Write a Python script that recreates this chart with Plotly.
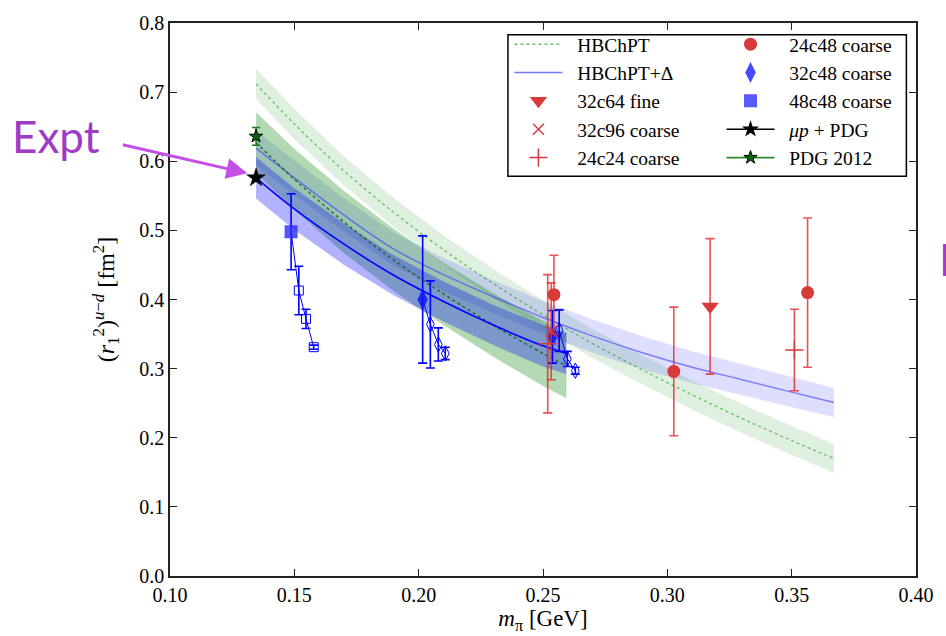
import plotly.graph_objects as go

# ---------------- data ----------------
# full-range fit curves (HBChPT and HBChPT+Delta)
x_full = [0.1346, 0.15, 0.17, 0.19, 0.21, 0.23, 0.25, 0.27, 0.29, 0.31, 0.33, 0.35, 0.367]
hb_center = [0.712, 0.654, 0.586, 0.526, 0.472, 0.423, 0.378, 0.336, 0.298, 0.262, 0.228, 0.196, 0.170]
hb_err = [0.022, 0.022, 0.021, 0.021, 0.021, 0.021, 0.021, 0.021, 0.021, 0.021, 0.021, 0.021, 0.021]
hbd_center = [0.619, 0.576, 0.522, 0.473, 0.436, 0.404, 0.374, 0.347, 0.323, 0.302, 0.284, 0.266, 0.251]
hbd_err = [0.025, 0.025, 0.024, 0.024, 0.024, 0.024, 0.024, 0.024, 0.024, 0.023, 0.023, 0.022, 0.021]

# short-range fit curves (fit to the coarse blue data)
x_short = [0.1346, 0.15, 0.17, 0.19, 0.21, 0.23, 0.25, 0.2594]
dg_center = [0.627, 0.574, 0.512, 0.457, 0.408, 0.363, 0.322, 0.304]
dg_err = [0.044, 0.044, 0.045, 0.045, 0.045, 0.046, 0.047, 0.047]
db_center = [0.576, 0.531, 0.480, 0.435, 0.397, 0.363, 0.333, 0.322]
db_err = [0.030, 0.030, 0.030, 0.029, 0.029, 0.029, 0.030, 0.030]

# blue lattice data
sq48_x = [0.1487]
sq48_y = [0.498]
sq48_err = [0.055]
sq48_ext_x = [0.1518, 0.1547, 0.1578]
sq48_ext_y = [0.413, 0.372, 0.331]
sq48_ext_err = [0.035, 0.014, 0.003]

di32_x = [0.2016, 0.2538]
di32_y = [0.400, 0.346]
di32_err = [0.092, 0.038]
di32_ext1_x = [0.2047, 0.2079, 0.2107]
di32_ext1_y = [0.364, 0.335, 0.322]
di32_ext1_err = [0.063, 0.024, 0.009]
di32_ext2_x = [0.2565, 0.2598, 0.2630]
di32_ext2_y = [0.355, 0.314, 0.297]
di32_ext2_err = [0.030, 0.011, 0.005]

# red lattice data
c24c48_x = [0.2544, 0.3026, 0.3564]
c24c48_y = [0.407, 0.296, 0.410]
c24c48_err = [0.057, 0.093, 0.108]
t32c64_x = [0.3172]
t32c64_y = [0.390]
t32c64_err = [0.098]
x32c96_x = [0.2533]
x32c96_y = [0.354]
x32c96_err = [0.070]
p24c24_x = [0.2519, 0.3511]
p24c24_y = [0.336, 0.327]
p24c24_err = [0.100, 0.059]

# experiment
pdg_x = [0.1346]
pdg_y = [0.636]
pdg_err = [0.013]
mup_x = [0.1346]
mup_y = [0.576]

x_ticks = [0.10, 0.15, 0.20, 0.25, 0.30, 0.35, 0.40]
y_ticks = [0.0, 0.1, 0.2, 0.3, 0.4, 0.5, 0.6, 0.7, 0.8]

# ---------------- styles ----------------
RED = "#d83a3a"
RED_ERR = "rgba(222,40,40,0.8)"
BLUE = "#0000ff"
SERIF = "Liberation Serif"
PAD = "\u00a0\u00a0"

fig = go.Figure()


def band(xs, center, err, fillcolor):
    up = [c + e for c, e in zip(center, err)]
    lo = [c - e for c, e in zip(center, err)]
    fig.add_trace(go.Scatter(x=list(xs) + list(xs)[::-1], y=up + lo[::-1],
                             fill="toself", fillcolor=fillcolor, line=dict(width=0),
                             mode="lines", hoverinfo="skip", showlegend=False))


band(x_full, hb_center, hb_err, "rgba(0,128,0,0.12)")
band(x_full, hbd_center, hbd_err, "rgba(0,0,255,0.13)")
band(x_short, dg_center, dg_err, "rgba(0,128,0,0.30)")
band(x_short, db_center, db_err, "rgba(0,0,255,0.30)")

fig.add_trace(go.Scatter(x=x_full, y=hb_center, mode="lines", showlegend=False,
                         line=dict(color="rgba(0,150,0,0.55)", width=1.3, dash="dot", shape="spline")))
fig.add_trace(go.Scatter(x=x_full, y=hbd_center, mode="lines", showlegend=False,
                         line=dict(color="rgba(60,60,255,0.6)", width=1.5, shape="spline")))
fig.add_trace(go.Scatter(x=x_short, y=dg_center, mode="lines", showlegend=False,
                         line=dict(color="rgba(0,110,0,0.85)", width=1.5, dash="dot", shape="spline")))
fig.add_trace(go.Scatter(x=x_short, y=db_center, mode="lines", showlegend=False,
                         line=dict(color=BLUE, width=1.6, shape="spline")))

# blue connecting lines
fig.add_trace(go.Scatter(x=sq48_x + sq48_ext_x, y=sq48_y + sq48_ext_y, mode="lines",
                         showlegend=False, line=dict(color=BLUE, width=1)))
fig.add_trace(go.Scatter(x=di32_x[:1] + di32_ext1_x, y=di32_y[:1] + di32_ext1_y, mode="lines",
                         showlegend=False, line=dict(color=BLUE, width=1)))
fig.add_trace(go.Scatter(x=di32_x[1:] + di32_ext2_x, y=di32_y[1:] + di32_ext2_y, mode="lines",
                         showlegend=False, line=dict(color=BLUE, width=1)))


def errb(arr, color, thick=1.6, w=4.5):
    return dict(type="data", array=arr, visible=True, color=color, thickness=thick, width=w)


# open (extrapolated) blue markers
fig.add_trace(go.Scatter(x=sq48_ext_x, y=sq48_ext_y, mode="markers", showlegend=False,
                         error_y=errb(sq48_ext_err, BLUE),
                         marker=dict(symbol="square-open", size=9, color=BLUE, line=dict(width=1))))
fig.add_trace(go.Scatter(x=di32_ext1_x + di32_ext2_x, y=di32_ext1_y + di32_ext2_y, mode="markers",
                         showlegend=False, error_y=errb(di32_ext1_err + di32_ext2_err, BLUE),
                         marker=dict(symbol="diamond-tall-open", size=11, color=BLUE, line=dict(width=1))))
# filled blue markers
fig.add_trace(go.Scatter(x=sq48_x, y=sq48_y, mode="markers", showlegend=False,
                         error_y=errb(sq48_err, BLUE),
                         marker=dict(symbol="square", size=13, color="rgba(40,40,255,0.8)")))
fig.add_trace(go.Scatter(x=di32_x, y=di32_y, mode="markers", showlegend=False,
                         error_y=errb(di32_err, BLUE),
                         marker=dict(symbol="diamond-tall", size=15, color="rgba(20,20,255,0.85)")))

# red markers
fig.add_trace(go.Scatter(x=p24c24_x, y=p24c24_y, mode="markers", showlegend=False,
                         error_y=errb(p24c24_err, RED_ERR),
                         marker=dict(symbol="cross-thin-open", size=13, color=RED, line=dict(width=1.5, color=RED))))
fig.add_trace(go.Scatter(x=x32c96_x, y=x32c96_y, mode="markers", showlegend=False,
                         error_y=errb(x32c96_err, RED_ERR),
                         marker=dict(symbol="x-thin-open", size=11, color=RED, line=dict(width=1.5, color=RED))))
fig.add_trace(go.Scatter(x=t32c64_x, y=t32c64_y, mode="markers", showlegend=False,
                         error_y=errb(t32c64_err, RED_ERR),
                         marker=dict(symbol="triangle-down", size=15, color=RED)))
fig.add_trace(go.Scatter(x=c24c48_x, y=c24c48_y, mode="markers", showlegend=False,
                         error_y=errb(c24c48_err, RED_ERR),
                         marker=dict(symbol="circle", size=13, color=RED)))

# experiment points
fig.add_trace(go.Scatter(x=pdg_x, y=pdg_y, mode="markers", showlegend=False,
                         error_y=errb(pdg_err, "#1a7a1a", 1.5, 4),
                         marker=dict(symbol="star", size=10, color="#0a6a0a", line=dict(width=1, color="black"))))
fig.add_trace(go.Scatter(x=mup_x, y=mup_y, mode="markers", showlegend=False,
                         marker=dict(symbol="star", size=14, color="black", line=dict(width=0.5, color="black"))))

# ---------------- legend entries: two columns = two legends inside one box ----------------
N = [None]
col1 = [
    dict(name="HBChPT", mode="lines", line=dict(color="rgba(0,150,0,0.6)", width=1.5, dash="dot")),
    dict(name="HBChPT+Δ", mode="lines", line=dict(color="rgba(60,60,255,0.7)", width=1.5)),
    dict(name="32c64 fine", mode="markers", marker=dict(symbol="triangle-down", size=15, color=RED)),
    dict(name="32c96 coarse", mode="markers", marker=dict(symbol="x-thin-open", size=11, color=RED, line=dict(width=1.5, color=RED))),
    dict(name="24c24 coarse", mode="markers", marker=dict(symbol="cross-thin-open", size=13, color=RED, line=dict(width=1.5, color=RED))),
]
col2 = [
    dict(name="24c48 coarse", mode="markers", marker=dict(symbol="circle", size=13, color=RED)),
    dict(name="32c48 coarse", mode="markers", marker=dict(symbol="diamond-tall", size=15, color="rgba(40,40,255,0.85)")),
    dict(name="48c48 coarse", mode="markers", marker=dict(symbol="square", size=13, color="rgba(60,60,255,0.85)")),
    dict(name="<i>μp</i> + PDG", mode="lines+markers", line=dict(color="black", width=1.5),
         marker=dict(symbol="star", size=13, color="black")),
    dict(name="PDG 2012", mode="lines+markers", line=dict(color="#2a8a2a", width=1.8),
         marker=dict(symbol="star", size=10, color="#0a6a0a", line=dict(width=1, color="black"))),
]
for i, d in enumerate(col1):
    d = dict(d, name=PAD + d["name"])
    fig.add_trace(go.Scatter(x=N, y=N, showlegend=True, legend="legend", legendrank=i + 1, **d))
for i, d in enumerate(col2):
    d = dict(d, name=PAD + d["name"])
    fig.add_trace(go.Scatter(x=N, y=N, showlegend=True, legend="legend2", legendrank=i + 1, **d))

# ---------------- layout ----------------
axis_common = dict(showgrid=False, zeroline=False, showline=True, linecolor="#222", linewidth=1.5,
                   mirror="ticks", ticks="inside", ticklen=7, tickwidth=1.2, tickcolor="#222",
                   tickfont=dict(family=SERIF, size=20, color="black"))

leg_common = dict(yanchor="top", xanchor="left", orientation="v", itemwidth=48,
                  bgcolor="rgba(255,255,255,0)", borderwidth=0, traceorder="normal",
                  font=dict(family=SERIF, size=19.5, color="black"))

fig.update_layout(
    width=946, height=636,
    margin=dict(l=170, r=23, t=17, b=53),
    paper_bgcolor="white", plot_bgcolor="white",
    xaxis=dict(range=[0.10, 0.40], tickvals=x_ticks, ticktext=[f"{v:.2f}" for v in x_ticks],
               title=dict(text="<i>m</i><sub>π</sub> [GeV]", font=dict(family=SERIF, size=23, color="black"),
                          standoff=2), **axis_common),
    yaxis=dict(range=[0.0, 0.8], tickvals=y_ticks, ticktext=[f"{v:.1f}" for v in y_ticks],
               title=dict(text="(<i>r</i><sub>1</sub><sup>2</sup>)<sup><i>u</i>−<i>d</i></sup> [fm<sup>2</sup>]",
                          font=dict(family=SERIF, size=24, color="black"), standoff=18), **axis_common),
    legend=dict(x=0.455, y=0.9964, **leg_common),
    legend2=dict(x=0.7393, y=0.9964, **leg_common),
    shapes=[dict(type="rect", xref="paper", yref="paper", x0=0.453, x1=0.9871, y0=0.7229, y1=0.9788,
                 line=dict(color="black", width=1.5), fillcolor="white", layer="above")],
    annotations=[
        dict(text="Expt", xref="paper", yref="paper", x=-0.214, y=0.795, xanchor="left", yanchor="middle",
             showarrow=False, font=dict(family="Lato", size=44, color="#9e3cc6")),
        dict(text="Lattice", xref="paper", yref="paper", x=1.0283, y=0.573, xanchor="left", yanchor="middle",
             showarrow=False, font=dict(family="Lato", size=44, color="#9e3cc6")),
        dict(text="", xref="x", yref="y", x=0.1311, y=0.5825, ax=-126, ay=-29, showarrow=True,
             arrowhead=2, arrowsize=1.4, arrowwidth=3, arrowcolor="#c44fe8", standoff=0),
    ],
)

fig.write_html("out.html")
